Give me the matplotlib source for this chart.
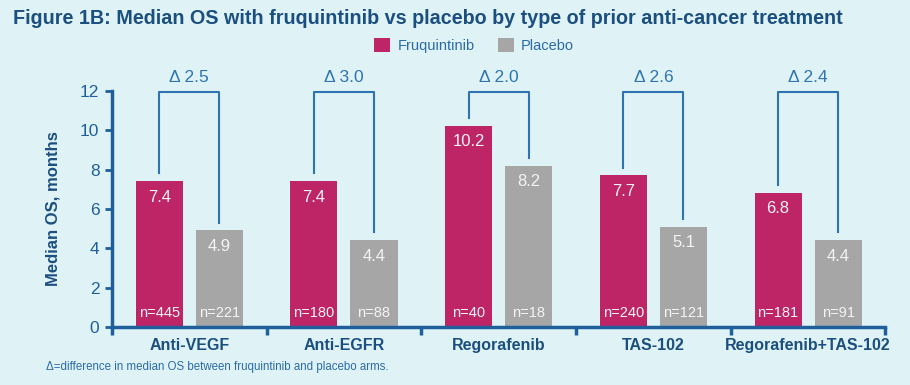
import matplotlib.pyplot as plt
import numpy as np

groups = ["Anti-VEGF", "Anti-EGFR", "Regorafenib", "TAS-102", "Regorafenib+TAS-102"]
fruq = [7.4, 7.4, 10.2, 7.7, 6.8]
placebo = [4.9, 4.4, 8.2, 5.1, 4.4]
n_fruq = [445, 180, 40, 240, 181]
n_placebo = [221, 88, 18, 121, 91]
delta = [2.5, 3.0, 2.0, 2.6, 2.4]

bg = "#dff3f6"
axis_col = "#1f5f9c"
dark = "#1b4f80"
light = "#2a6aa8"
fruq_col = "#be2567"
plac_col = "#a6a6a6"
bracket_col = "#2f74b0"

plt.rcParams['font.family'] = ['Liberation Sans', 'DejaVu Sans']

fig = plt.figure(figsize=(9.1, 3.85), dpi=100, facecolor=bg)
ax = fig.add_axes([0.123, 0.151, 0.850, 0.613])
ax.set_facecolor(bg)

x = np.arange(len(groups)) + 0.5
off = 0.194
w = 0.304

ax.bar(x - off, fruq, w, color=fruq_col, label="Fruquintinib", zorder=2)
ax.bar(x + off, placebo, w, color=plac_col, label="Placebo", zorder=2)

for i in range(len(groups)):
    ax.text(x[i] - off, fruq[i] - 0.8, f"{fruq[i]:.1f}", ha="center", va="center",
            color="#f4f4f4", fontsize=12)
    ax.text(x[i] + off, placebo[i] - 0.8, f"{placebo[i]:.1f}", ha="center", va="center",
            color="#f4f4f4", fontsize=12)
    ax.text(x[i] - off, 0.7, f"n={n_fruq[i]}", ha="center", va="center",
            color="#f4f4f4", fontsize=10.5)
    ax.text(x[i] + off, 0.7, f"n={n_placebo[i]}", ha="center", va="center",
            color="#f4f4f4", fontsize=10.5)
    # bracket between the two bars
    top = 11.95
    ax.plot([x[i] - off, x[i] - off, x[i] + off, x[i] + off],
            [fruq[i] + 0.4, top, top, placebo[i] + 0.4],
            color=bracket_col, lw=1.5, clip_on=False, zorder=3)
    ax.text(x[i], top + 0.75, f"\u0394 {delta[i]:.1f}", ha="center", va="center",
            color=bracket_col, fontsize=12.5)

ax.set_xlim(0, 5)
ax.set_ylim(0, 12)
ax.set_yticks(range(0, 13, 2))
ax.set_xticks(range(0, 6))
ax.set_xticklabels([])
ax.set_xticks(x, minor=True)
ax.set_xticklabels(groups, minor=True, fontweight="bold", color=dark, fontsize=11.5)
ax.tick_params(axis="x", which="minor", length=0, pad=8)
ax.tick_params(axis="x", which="major", length=6, width=2.5, color=axis_col)
ax.tick_params(axis="y", length=5, width=2, color=axis_col, labelcolor=axis_col,
               labelsize=12.5, pad=4)

for s in ["top", "right"]:
    ax.spines[s].set_visible(False)
for s in ["left", "bottom"]:
    ax.spines[s].set_color(axis_col)
    ax.spines[s].set_linewidth(2.5)

ax.set_ylabel("Median OS, months", fontweight="bold", color=dark, fontsize=12, labelpad=14)

fig.text(0.014, 0.953, "Figure 1B: Median OS with fruquintinib vs placebo by type of prior anti-cancer treatment",
         fontweight="bold", color=dark, fontsize=14.2, va="center", ha="left")

fig.legend(loc="center", bbox_to_anchor=(0.521, 0.883), ncol=2, frameon=False,
           handlelength=1.1, handleheight=1.1, handletextpad=0.5, columnspacing=1.6,
           fontsize=10.5, labelcolor=light)

fig.text(0.051, 0.047, "\u0394=difference in median OS between fruquintinib and placebo arms.",
         color=light, fontsize=8.3, va="center", ha="left")

fig.savefig("out.png", dpi=100, facecolor=bg)
